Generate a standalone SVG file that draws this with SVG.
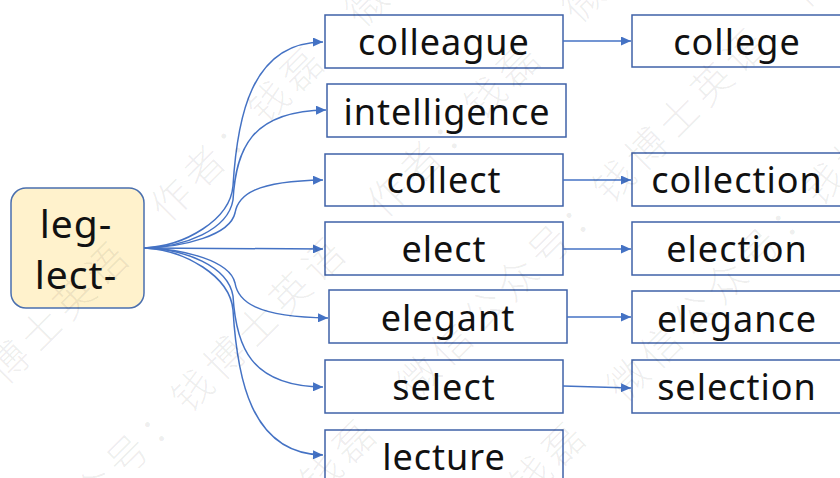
<svg xmlns="http://www.w3.org/2000/svg" width="840" height="478" viewBox="0 0 840 478">
<style>
.box{fill:#fff;stroke:#3f62a8;stroke-width:1.5}
.root{fill:#fff2cc;stroke:#4a6fae;stroke-width:1.5}
.t{font-family:"Noto Sans","Liberation Sans",sans-serif;font-size:36px;fill:#111;text-anchor:middle;letter-spacing:1px}
.rt{font-family:"Noto Sans","Liberation Sans",sans-serif;font-size:39px;fill:#111;text-anchor:middle;letter-spacing:1px}
.c{fill:none;stroke:#4472c4;stroke-width:1.5;marker-end:url(#ah)}
.wm{font-family:"Noto Sans CJK SC",sans-serif;font-size:40px;font-weight:300;fill:#000;fill-opacity:0.07;letter-spacing:6px}
</style>
<defs>
<marker id="ah" markerUnits="userSpaceOnUse" markerWidth="10" markerHeight="9" refX="10" refY="4.5" orient="auto">
<path d="M0,0 L10,4.5 L0,9 Z" fill="#4472c4"/>
</marker>
</defs>
<g id="root"><rect class="root" x="11" y="188" width="133" height="120" rx="15"/><text class="rt" x="76" y="238">leg-</text><text class="rt" x="76" y="289">lect-</text></g>
<g id="colleague"><rect class="box" x="325" y="15" width="238" height="53"/><text class="t" x="444" y="55">colleague</text></g>
<g id="intelligence"><rect class="box" x="327" y="84" width="239" height="53"/><text class="t" x="447" y="125">intelligence</text></g>
<g id="collect"><rect class="box" x="325" y="154" width="238" height="52"/><text class="t" x="444" y="193">collect</text></g>
<g id="elect"><rect class="box" x="325" y="222" width="238" height="53"/><text class="t" x="444" y="262">elect</text></g>
<g id="elegant"><rect class="box" x="329" y="290" width="238" height="53"/><text class="t" x="448" y="331">elegant</text></g>
<g id="select"><rect class="box" x="325" y="360" width="238" height="53"/><text class="t" x="444" y="400">select</text></g>
<g id="lecture"><rect class="box" x="325" y="430" width="238" height="53"/><text class="t" x="444" y="470">lecture</text></g>
<g id="college"><rect class="box" x="632" y="15" width="212" height="52"/><text class="t" x="737" y="55">college</text></g>
<g id="collection"><rect class="box" x="632" y="153" width="212" height="53"/><text class="t" x="737" y="193">collection</text></g>
<g id="election"><rect class="box" x="632" y="222" width="212" height="53"/><text class="t" x="737" y="262">election</text></g>
<g id="elegance"><rect class="box" x="632" y="291" width="212" height="52"/><text class="t" x="737" y="332">elegance</text></g>
<g id="selection"><rect class="box" x="632" y="360" width="212" height="53"/><text class="t" x="737" y="400">selection</text></g>
<g id="connectors">
<path class="c" d="M144,248 C185,246 230,220 233,186 C237,120 250,42 323,42"/>
<path class="c" d="M144,248 C185,247 228,230 233,200 C236,150 250,111 326,110"/>
<path class="c" d="M144,248 C185,247 230,235 235,213 C238,195 255,181 323,180"/>
<path class="c" d="M144,248 L323,249"/>
<path class="c" d="M144,248 C185,249 230,261 235,283 C238,301 255,317 328,318"/>
<path class="c" d="M144,248 C185,249 228,266 233,296 C236,346 250,386 323,387"/>
<path class="c" d="M144,248 C185,250 230,276 233,310 C237,376 250,454 323,455"/>
<path class="c" d="M563,41 L631,41"/>
<path class="c" d="M563,180 L631,180"/>
<path class="c" d="M563,249 L631,249"/>
<path class="c" d="M567,317 L631,317"/>
<path class="c" d="M563,386 L631,388"/>
</g>
<g id="watermark" transform="rotate(-45 420 239)">
<text class="wm" x="-300" y="50">微信公众号：钱博士英语　作者：钱磊　微信公众号：钱博士英语</text>
<text class="wm" x="-420" y="200">作者：钱磊　微信公众号：钱博士英语　作者：钱磊　微信公众号</text>
<text class="wm" x="-250" y="350">钱博士英语　作者：钱磊　微信公众号：钱博士英语　作者：钱磊</text>
<text class="wm" x="-380" y="500">微信公众号：钱博士英语　作者：钱磊　微信公众号：钱博士英语</text>
</g>
</svg>
